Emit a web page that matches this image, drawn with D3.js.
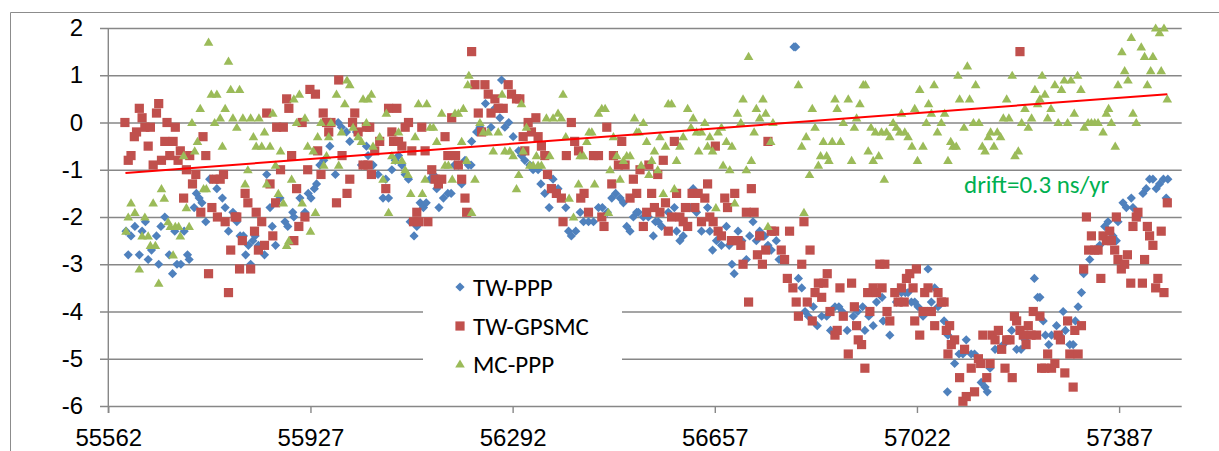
<!DOCTYPE html>
<html>
<head>
<meta charset="utf-8">
<script src="https://cdn.jsdelivr.net/npm/d3@7"></script>
<style>
  body { margin: 0; background: #fff; }
  svg { display: block; font-family: Carlito, Lato, "Open Sans", sans-serif; }
</style>
</head>
<body>
<div id="chart"></div>
<script>
// MJD tick labels and y ticks
const xTicks = [55562, 55927, 56292, 56657, 57022, 57387];
const yTicks = [-6, -5, -4, -3, -2, -1, 0, 1, 2];

// [MJD, ns]
const twPpp = [
  [55594,-2.3],[55598,-2.8],[55603,-2.4],[55610,-2.2],[55618,-2.8],[55623,-2.3],[55629,-2.1],[55634,-2.9],
  [55640,-2.7],[55649,-2.4],[55653,-3.0],[55657,-2.2],[55664,-2.0],[55672,-2.8],[55678,-3.2],[55682,-2.3],
  [55686,-3.0],[55693,-3.0],[55699,-2.3],[55705,-2.8],[55708,-2.9],[55717,-1.8],[55721,-1.5],[55726,-1.6],
  [55731,-1.7],[55738,-2.1],[55745,-1.2],[55750,-1.2],[55758,-1.4],[55768,-1.6],[55773,-1.8],[55779,-2.3],
  [55787,-1.9],[55794,-2.1],[55800,-2.4],[55806,-2.4],[55810,-2.8],[55815,-2.6],[55819,-3.0],[55823,-2.5],
  [55827,-2.4],[55833,-2.6],[55844,-2.8],[55848,-1.1],[55854,-1.8],[55858,-2.2],[55864,-2.6],[55872,-1.6],
  [55881,-2.1],[55886,-2.2],[55895,-1.9],[55897,-2.0],[55908,-1.6],[55917,-1.9],[55923,-1.5],[55928,-1.6],
  [55934,-1.4],[55938,-1.3],[55944,-0.9],[55951,-0.8],[55962,-0.5],[55972,-1.1],[55977,0.0],[55983,-0.1],
  [55992,-0.2],[55998,-0.4],[56010,-0.2],[56019,-0.9],[56028,-0.5],[56031,-0.7],[56040,-0.9],[56049,-1.1],
  [56058,-1.6],[56063,-1.2],[56068,-1.6],[56074,-1.0],[56080,-0.8],[56086,-0.7],[56092,-0.9],[56098,-1.1],
  [56104,-1.2],[56107,-2.1],[56114,-2.4],[56119,-2.2],[56125,-1.7],[56131,-1.8],[56136,-1.7],[56143,-1.2],
  [56149,-1.1],[56155,-1.4],[56159,-1.8],[56167,-1.6],[56175,-1.5],[56181,-1.5],[56187,-0.9],[56194,-0.9],
  [56200,-1.3],[56206,-0.8],[56212,-0.9],[56217,-0.9],[56218,-0.4],[56227,-0.2],[56233,-0.1],[56243,0.4],
  [56253,-0.1],[56260,0.3],[56269,0.1],[56272,0.9],[56278,-0.1],[56285,0.0],[56293,-0.3],[56303,-0.6],
  [56308,-0.7],[56314,-0.8],[56323,-0.9],[56329,-1.0],[56338,-1.0],[56343,-1.3],[56350,-1.5],[56358,-1.8],
  [56365,-1.2],[56374,-1.4],[56388,-1.8],[56393,-2.3],[56398,-2.4],[56406,-2.3],[56414,-1.9],[56420,-2.1],
  [56429,-2.1],[56438,-2.1],[56447,-1.8],[56454,-1.8],[56463,-1.9],[56471,-1.6],[56478,-1.5],[56486,-1.6],
  [56492,-1.7],[56498,-2.2],[56504,-2.3],[56510,-2.0],[56516,-1.9],[56519,-1.9],[56528,-2.0],[56537,-2.0],
  [56546,-2.4],[56550,-2.1],[56555,-2.1],[56561,-2.2],[56573,-1.9],[56584,-1.8],[56588,-2.3],[56594,-2.5],
  [56600,-2.4],[56612,-1.8],[56618,-1.4],[56624,-1.9],[56633,-2.3],[56644,-1.8],[56648,-2.3],[56653,-2.7],
  [56660,-2.5],[56669,-2.6],[56678,-2.2],[56683,-2.6],[56688,-3.0],[56692,-3.2],[56699,-2.3],[56706,-2.5],
  [56714,-2.9],[56720,-2.4],[56726,-2.1],[56732,-2.5],[56738,-2.3],[56747,-2.4],[56753,-2.6],[56759,-2.7],
  [56768,-2.5],[56773,-2.9],[56783,-2.9],[56800,1.6],[56803,1.6],[56808,-3.3],[56814,-3.5],[56820,-4.0],
  [56826,-4.1],[56835,-3.9],[56842,-4.3],[56850,-4.1],[56859,-4.1],[56866,-4.4],[56874,-3.9],[56881,-3.9],
  [56887,-4.0],[56896,-4.4],[56907,-4.1],[56915,-4.0],[56924,-3.9],[56928,-4.4],[56935,-4.1],[56943,-4.3],
  [56949,-3.8],[56959,-3.7],[56961,-4.2],[56973,-4.5],[56985,-3.8],[56994,-3.6],[57001,-3.6],[57006,-3.6],
  [57012,-3.8],[57018,-3.8],[57024,-3.9],[57033,-4.1],[57042,-3.1],[57048,-3.8],[57054,-3.5],[57060,-3.9],
  [57071,-4.2],[57077,-5.7],[57078,-4.5],[57084,-4.7],[57090,-5.1],[57098,-4.9],[57105,-4.9],[57111,-4.6],
  [57120,-4.9],[57126,-4.9],[57138,-5.5],[57145,-5.6],[57149,-5.7],[57154,-5.2],[57163,-4.8],[57169,-4.8],
  [57178,-4.7],[57187,-4.6],[57193,-4.4],[57202,-4.8],[57210,-4.8],[57217,-4.6],[57224,-4.5],[57234,-3.3],
  [57240,-3.7],[57244,-3.7],[57250,-4.2],[57254,-4.5],[57260,-4.7],[57265,-4.5],[57274,-4.3],[57280,-4.5],
  [57286,-4.0],[57290,-4.4],[57298,-4.7],[57304,-4.7],[57308,-4.2],[57313,-3.9],[57319,-3.6],[57323,-3.2],
  [57334,-2.9],[57343,-2.7],[57352,-2.6],[57361,-2.2],[57367,-2.1],[57376,-2.4],[57382,-2.5],[57385,-2.1],
  [57394,-1.7],[57400,-1.8],[57409,-1.6],[57412,-1.8],[57421,-2.0],[57430,-1.5],[57436,-1.4],[57442,-1.2],
  [57448,-1.2],[57454,-1.4],[57460,-1.3],[57467,-1.2],[57472,-1.6],[57475,-1.2]
];

const twGpsmc = [
  [55592,0.0],[55598,-0.8],[55603,-0.7],[55609,-0.3],[55613,-0.2],[55618,0.3],[55623,0.1],[55628,-0.1],
  [55634,-0.5],[55638,-0.1],[55643,-0.9],[55649,0.2],[55653,0.4],[55658,-0.8],[55664,-0.4],[55668,0.0],
  [55673,-0.7],[55679,-0.4],[55683,-0.1],[55688,-0.8],[55692,-0.6],[55698,-1.6],[55703,-1.0],[55709,-0.7],
  [55714,-1.3],[55720,-1.1],[55729,-1.9],[55733,-0.3],[55738,-0.7],[55743,-3.2],[55749,-1.8],[55753,-1.2],
  [55759,-2.0],[55764,-1.2],[55770,-1.1],[55773,-2.1],[55779,-3.6],[55783,-2.7],[55791,-2.0],[55794,-2.0],
  [55799,-3.1],[55804,-2.5],[55809,-1.5],[55814,-1.7],[55819,-3.1],[55826,-2.3],[55829,-1.9],[55833,-2.7],
  [55839,-2.1],[55844,-2.6],[55848,0.2],[55854,-1.3],[55859,-2.4],[55864,-1.7],[55866,-0.1],[55873,-1.0],
  [55878,-0.1],[55884,0.5],[55888,0.3],[55893,-0.7],[55897,-2.5],[55902,-1.4],[55906,-2.2],[55912,0.0],
  [55917,-2.0],[55922,-1.0],[55926,0.7],[55936,0.6],[55940,-0.6],[55946,-1.1],[55950,0.2],[55956,0.0],
  [55960,-0.2],[55964,0.0],[55974,-1.7],[55978,0.9],[55984,-0.7],[55993,-1.5],[55998,-1.2],[56003,0.0],
  [56007,0.2],[56013,-0.2],[56022,-0.9],[56028,-0.1],[56031,-0.9],[56034,-0.1],[56037,-1.1],[56043,-0.6],
  [56052,-0.4],[56063,-1.4],[56068,0.3],[56074,-0.2],[56077,-0.4],[56083,0.3],[56086,-0.4],[56092,-0.5],
  [56098,-0.1],[56104,0.0],[56110,-0.6],[56113,-2.1],[56119,-1.9],[56122,-2.1],[56128,-0.1],[56134,-0.6],
  [56139,-2.1],[56146,-1.0],[56152,-1.2],[56158,-1.3],[56164,-1.2],[56170,-0.3],[56175,-0.7],[56182,0.1],
  [56189,-0.7],[56194,-0.9],[56200,-1.2],[56206,-1.6],[56209,-1.9],[56218,1.5],[56224,0.8],[56230,0.2],
  [56236,-0.2],[56242,0.8],[56248,0.6],[56253,0.2],[56260,0.5],[56266,0.3],[56275,0.3],[56284,0.8],
  [56290,0.6],[56299,0.5],[56305,0.5],[56311,-0.3],[56314,-0.6],[56320,0.0],[56326,-0.2],[56334,0.1],
  [56338,-0.3],[56344,-0.5],[56350,-0.7],[56355,-1.1],[56362,-1.4],[56371,-1.5],[56380,-1.6],[56383,-2.1],
  [56389,-0.7],[56398,0.0],[56404,-0.4],[56411,-0.6],[56415,-1.6],[56421,-1.5],[56429,-1.9],[56438,-0.7],
  [56447,-0.7],[56453,-2.0],[56457,-2.2],[56462,-0.1],[56471,-1.3],[56474,-0.7],[56483,-0.9],[56489,-0.4],
  [56495,-0.9],[56504,-1.6],[56510,-1.2],[56516,-1.5],[56522,-1.0],[56528,-2.2],[56534,-1.9],[56538,-0.9],
  [56543,-1.5],[56548,-1.8],[56554,-1.1],[56558,-1.9],[56564,-0.8],[56568,-1.7],[56573,-2.3],[56579,-2.0],
  [56584,-0.4],[56588,-1.5],[56594,-2.0],[56600,-2.1],[56604,-1.8],[56608,-2.2],[56616,-1.5],[56621,-1.8],
  [56627,-1.5],[56633,-2.1],[56639,-1.6],[56644,-1.3],[56648,-2.0],[56654,-2.1],[56658,-0.5],[56663,-2.3],
  [56669,-2.4],[56675,-1.6],[56680,-1.8],[56687,-2.5],[56693,-1.5],[56699,-2.5],[56704,-2.6],[56708,-3.0],
  [56714,-1.9],[56718,-3.8],[56723,-1.4],[56728,-1.9],[56734,-2.8],[56738,-2.4],[56743,-3.0],[56749,-2.7],
  [56753,-0.4],[56759,-2.3],[56765,-2.3],[56777,-2.7],[56783,-2.9],[56788,-3.3],[56792,-2.3],[56798,-3.5],
  [56804,-3.8],[56808,-4.1],[56814,-3.0],[56818,-2.1],[56824,-3.8],[56829,-2.7],[56833,-4.2],[56838,-3.6],
  [56844,-3.4],[56850,-3.7],[56854,-3.4],[56860,-3.2],[56865,-4.0],[56874,-4.5],[56878,-4.4],[56883,-3.5],
  [56889,-4.1],[56898,-4.9],[56904,-3.4],[56909,-3.9],[56913,-4.3],[56916,-4.6],[56922,-4.7],[56928,-5.2],
  [56933,-3.6],[56937,-4.0],[56943,-3.5],[56949,-3.6],[56955,-3.0],[56959,-3.5],[56964,-3.0],[56968,-4.0],
  [56973,-4.2],[56982,-3.6],[56988,-3.8],[56994,-3.5],[56999,-3.8],[57003,-3.3],[57009,-3.2],[57015,-3.5],
  [57018,-4.2],[57021,-3.1],[57027,-4.5],[57033,-4.0],[57036,-3.6],[57042,-3.5],[57048,-4.0],[57054,-4.3],
  [57060,-3.6],[57066,-3.8],[57071,-3.8],[57075,-4.4],[57078,-4.9],[57081,-4.3],[57084,-4.7],[57090,-4.6],
  [57099,-5.4],[57105,-5.9],[57108,-4.8],[57111,-5.8],[57120,-5.2],[57126,-5.7],[57133,-5.0],[57137,-5.1],
  [57141,-4.5],[57148,-5.4],[57154,-5.1],[57158,-4.5],[57163,-4.6],[57169,-4.4],[57175,-4.8],[57181,-5.2],
  [57184,-4.6],[57190,-4.6],[57194,-5.4],[57198,-4.1],[57202,-4.2],[57208,1.5],[57208,-4.4],[57214,-4.5],
  [57219,-4.7],[57223,-4.3],[57228,-4.5],[57232,-4.0],[57238,-4.5],[57244,-4.1],[57247,-5.2],[57253,-5.2],
  [57258,-4.9],[57265,-5.2],[57271,-5.1],[57277,-4.5],[57281,-4.6],[57289,-5.3],[57294,-4.2],[57298,-4.9],
  [57304,-5.6],[57307,-4.4],[57313,-4.9],[57319,-4.3],[57323,-3.1],[57328,-2.0],[57332,-2.7],[57337,-2.4],
  [57343,-2.7],[57349,-2.7],[57354,-3.3],[57358,-2.4],[57364,-2.5],[57370,-2.3],[57373,-2.5],[57379,-2.7],
  [57382,-2.0],[57385,-2.9],[57391,-3.1],[57397,-3.0],[57402,-2.8],[57408,-3.4],[57412,-2.2],[57418,-2.0],
  [57421,-1.9],[57429,-3.4],[57433,-2.9],[57438,-2.2],[57442,-2.4],[57448,-2.6],[57453,-3.5],[57457,-3.3],
  [57463,-2.3],[57468,-3.6],[57474,-1.7]
];

const mcPpp = [
  [55594,-2.3],[55598,-2.0],[55603,-1.7],[55610,-1.9],[55618,-3.1],[55623,-2.4],[55628,-2.0],[55634,-2.4],
  [55638,-2.6],[55643,-1.7],[55647,-2.6],[55653,-3.4],[55658,-1.4],[55663,-1.6],[55670,-2.1],[55674,-2.2],
  [55679,-2.8],[55683,-2.2],[55689,-2.2],[55692,-2.4],[55698,-0.7],[55703,-1.8],[55708,-2.2],[55713,0.0],
  [55718,-0.6],[55723,-0.4],[55728,0.3],[55734,-1.4],[55739,-1.4],[55743,1.7],[55748,0.6],[55754,0.0],
  [55758,0.6],[55764,0.1],[55768,-0.5],[55773,0.3],[55779,1.3],[55783,0.7],[55787,0.1],[55794,-0.1],
  [55799,0.7],[55805,0.1],[55809,-1.3],[55814,-1.0],[55819,0.1],[55824,-0.3],[55829,-0.5],[55834,0.1],
  [55839,-0.5],[55844,-0.2],[55848,-1.3],[55854,-0.5],[55859,0.2],[55864,-0.9],[55869,-1.5],[55873,-0.6],
  [55878,-1.7],[55884,-2.6],[55888,-2.5],[55893,-1.2],[55897,0.5],[55902,0.0],[55907,0.6],[55912,-1.7],
  [55917,0.1],[55922,-0.5],[55927,-2.3],[55932,-0.6],[55936,-1.9],[55940,-0.3],[55946,0.0],[55951,-0.9],
  [55956,-0.7],[55960,-0.3],[55964,0.0],[55974,0.6],[55978,-0.9],[55983,-0.2],[55989,0.4],[55993,0.9],
  [55998,0.8],[56004,-0.1],[56013,-0.3],[56019,-0.4],[56022,0.5],[56028,0.0],[56031,0.5],[56037,0.6],
  [56040,-0.5],[56052,-0.3],[56058,-1.2],[56064,0.2],[56068,-1.9],[56074,-0.7],[56080,-0.8],[56086,-0.2],
  [56092,-0.8],[56098,-1.0],[56103,-1.1],[56108,-1.5],[56116,-0.3],[56122,0.4],[56129,-1.5],[56134,-1.2],
  [56137,0.4],[56143,-0.1],[56149,-0.1],[56155,-0.4],[56164,0.2],[56170,-0.9],[56176,-0.9],[56183,-1.2],
  [56188,0.2],[56194,0.2],[56200,-0.4],[56203,0.3],[56209,-0.8],[56211,0.8],[56213,1.0],[56218,-1.9],
  [56224,-1.2],[56233,0.0],[56239,-0.2],[56248,-0.2],[56257,-0.6],[56266,-0.2],[56273,0.6],[56278,-0.6],
  [56287,-0.6],[56293,-0.7],[56299,-1.4],[56303,-1.1],[56308,0.4],[56311,-0.6],[56317,-0.1],[56323,-0.9],
  [56329,-0.9],[56335,-0.7],[56338,-0.9],[56344,-0.9],[56353,0.1],[56359,-0.7],[56365,0.1],[56374,0.2],
  [56380,0.1],[56383,0.6],[56388,-0.3],[56394,-1.6],[56402,-2.0],[56411,-1.3],[56414,-0.7],[56420,-0.7],
  [56426,-0.4],[56430,-0.2],[56435,-0.2],[56440,-1.3],[56447,0.2],[56453,0.3],[56459,0.3],[56465,-1.9],
  [56468,-1.0],[56474,-0.3],[56480,-0.7],[56486,-1.2],[56492,-0.8],[56498,-0.7],[56504,-0.7],[56512,0.1],
  [56516,-0.2],[56520,-0.2],[56524,-0.9],[56528,0.0],[56534,-0.4],[56538,-1.1],[56543,-0.8],[56548,-0.6],
  [56554,-1.0],[56558,-0.3],[56564,-1.5],[56568,-0.5],[56573,0.4],[56579,0.4],[56584,-1.4],[56588,-0.8],
  [56594,-0.5],[56600,-0.3],[56608,0.3],[56614,-0.1],[56618,0.1],[56624,-0.2],[56628,-0.6],[56633,-0.2],
  [56639,0.0],[56644,-0.5],[56648,-0.3],[56653,-0.6],[56659,-1.8],[56663,-0.2],[56669,-0.1],[56672,-0.9],
  [56678,-0.4],[56684,-1.0],[56688,-0.5],[56693,-1.7],[56698,0.2],[56704,0.0],[56708,0.5],[56714,-1.0],
  [56718,1.4],[56723,-0.8],[56728,-0.2],[56732,0.3],[56738,0.1],[56744,0.5],[56749,0.2],[56753,-2.2],
  [56758,-0.4],[56762,0.0],[56808,0.8],[56814,-0.5],[56818,-1.9],[56822,-0.3],[56828,-1.1],[56833,0.3],
  [56838,-0.1],[56844,-0.9],[56848,-0.7],[56853,-0.4],[56859,-0.7],[56863,-0.8],[56869,-0.4],[56874,0.5],
  [56878,0.3],[56884,-0.4],[56889,0.0],[56898,0.5],[56904,-0.8],[56909,-0.1],[56913,0.1],[56919,0.4],
  [56925,0.8],[56929,0.8],[56934,-0.6],[56939,-0.1],[56943,-0.8],[56947,-0.2],[56953,-0.7],[56958,-0.2],
  [56963,-1.2],[56967,-0.2],[56973,-0.3],[56979,0.0],[56985,-0.1],[56991,-0.2],[56994,0.2],[57000,-0.2],
  [57006,-0.3],[57013,-0.5],[57018,0.3],[57023,-0.8],[57027,0.7],[57033,-0.5],[57039,0.0],[57043,0.4],
  [57048,0.2],[57053,0.8],[57059,-0.2],[57066,0.0],[57072,0.2],[57078,-0.8],[57083,-0.4],[57087,-0.5],
  [57093,-0.5],[57096,1.0],[57099,0.5],[57107,-0.1],[57113,1.2],[57117,0.5],[57124,0.0],[57128,0.8],
  [57134,0.0],[57140,-0.5],[57145,-0.6],[57151,-0.3],[57155,-0.2],[57161,-0.5],[57167,-0.2],[57173,-0.3],
  [57178,0.1],[57184,0.5],[57188,0.1],[57194,1.0],[57199,-0.7],[57205,-0.6],[57211,0.0],[57217,0.3],
  [57223,-0.1],[57229,0.1],[57235,0.7],[57240,0.4],[57244,0.5],[57248,1.0],[57253,0.6],[57258,0.1],
  [57264,0.3],[57271,0.8],[57277,0.0],[57283,0.7],[57288,0.9],[57294,0.0],[57300,0.9],[57306,0.2],
  [57312,1.0],[57318,0.7],[57324,-0.1],[57331,0.0],[57337,0.0],[57343,0.0],[57349,0.0],[57358,-0.2],
  [57364,0.2],[57368,0.3],[57373,0.0],[57380,-0.5],[57385,0.8],[57392,1.5],[57397,1.1],[57403,0.9],
  [57409,1.8],[57412,0.2],[57418,0.0],[57427,1.6],[57433,1.4],[57438,0.8],[57444,1.1],[57448,1.4],
  [57453,2.0],[57460,1.9],[57463,1.1],[57468,2.0],[57474,0.5]
];

// linear fit drawn over the data (start / end)
const trendDays = [55593, 57474];
const trendValues = [-1.07, 0.60];

const seriesNames = ["TW-PPP", "TW-GPSMC", "MC-PPP"];
const seriesColors = ["#4f81bd", "#c0504d", "#9bbb59"];
const driftLabel = "drift=0.3 ns/yr";

const width = 1219, height = 451;
const margin = { left: 108.3, right: 1181.7, top: 28, bottom: 406 };

const svg = d3.select("#chart").append("svg")
  .attr("width", width)
  .attr("height", height);

svg.append("rect").attr("width", width).attr("height", height).attr("fill", "#fff");

// chart area border (runs off the picture on the right/bottom)
svg.append("path")
  .attr("d", `M10.5,${height + 5}V12.5H${width + 5}`)
  .attr("fill", "none")
  .attr("stroke", "#8c8c8c")
  .attr("stroke-width", 1);

const x = d3.scaleLinear().domain([55562, 57500]).range([margin.left, margin.right]);
const y = d3.scaleLinear().domain([-6, 2]).range([margin.bottom, margin.top]);

const gridColor = "#878787";
const labelSize = 24;

// horizontal gridlines + y labels
const yAxis = svg.append("g")
  .attr("transform", "translate(100,0)")
  .call(d3.axisLeft(y).tickValues(yTicks).tickSize(-(margin.right - 100)).tickPadding(17).tickFormat(d => String(d)));
yAxis.select(".domain").remove();
yAxis.selectAll(".tick line").attr("stroke", gridColor).attr("stroke-width", 1.4);
yAxis.selectAll(".tick text").attr("font-size", labelSize).attr("fill", "#000").attr("font-family", null);

// x axis ticks + labels
const xAxis = svg.append("g")
  .attr("transform", `translate(0,${margin.bottom})`)
  .call(d3.axisBottom(x).tickValues(xTicks).tickSize(7).tickPadding(16).tickFormat(d => String(d)));
xAxis.select(".domain").remove();
xAxis.selectAll(".tick line").attr("stroke", gridColor).attr("stroke-width", 1.4);
xAxis.selectAll(".tick text").attr("font-size", labelSize).attr("fill", "#000").attr("font-family", null);

// vertical axis line
svg.append("line")
  .attr("x1", margin.left).attr("x2", margin.left)
  .attr("y1", margin.top).attr("y2", margin.bottom + 7)
  .attr("stroke", gridColor).attr("stroke-width", 1.4);

// legend box (white, drawn below the points)
const legend = svg.append("g");
legend.append("rect")
  .attr("x", 423).attr("y", 270).attr("width", 199).attr("height", 122)
  .attr("fill", "#fff");

const shapes = [
  "M0,-4.6L4.6,0L0,4.6L-4.6,0Z",
  "M-4.6,-4.6H4.6V4.6H-4.6Z",
  "M0,-4.6L4.8,3.6H-4.8Z"
];

const plot = svg.append("g");
[twPpp, twGpsmc, mcPpp].forEach((data, i) => {
  plot.append("g")
    .selectAll("path")
    .data(data)
    .join("path")
    .attr("d", shapes[i])
    .attr("transform", d => `translate(${x(d[0])},${y(d[1])})`)
    .attr("fill", seriesColors[i]);
});

// trend line
svg.append("line")
  .attr("x1", x(trendDays[0])).attr("y1", y(trendValues[0]))
  .attr("x2", x(trendDays[1])).attr("y2", y(trendValues[1]))
  .attr("stroke", "#ff0000").attr("stroke-width", 2);

svg.append("text")
  .attr("x", 964).attr("y", 193)
  .attr("font-size", 25)
  .attr("fill", "#00b050")
  .text(driftLabel);

// legend entries
const legendY = [287, 326, 364];
seriesNames.forEach((name, i) => {
  legend.append("path")
    .attr("d", shapes[i])
    .attr("transform", `translate(460,${legendY[i]})`)
    .attr("fill", seriesColors[i]);
  legend.append("text")
    .attr("x", 473).attr("y", legendY[i] + 8.5)
    .attr("font-size", 25)
    .text(name);
});
</script>
</body>
</html>
